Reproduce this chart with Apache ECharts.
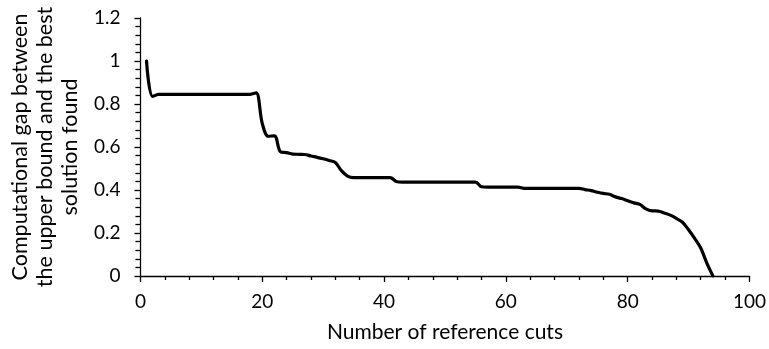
<!DOCTYPE html>
<html>
<head>
<meta charset="utf-8">
<script src="https://cdn.jsdelivr.net/npm/echarts@6/dist/echarts.min.js"></script>
<style>
  html, body { margin: 0; padding: 0; background: #fff; }
  #chart { width: 769px; height: 349px; }
</style>
</head>
<body>
<div id="chart"></div>
<script>
// Number of reference cuts added so far
const cuts = [1, 2, 3, 4, 8, 12, 16, 18, 19, 20, 21, 22, 23, 24, 25, 26, 27, 28, 29, 30,
  31, 32, 33, 34, 35, 38, 41, 42, 43, 48, 55, 56, 57, 62, 63, 68, 72, 73, 74, 75, 76, 77,
  78, 79, 80, 81, 82, 83, 84, 85, 86, 87, 88, 89, 90, 91, 92, 93, 94];
// Relative gap between the upper bound and the best solution found
const gap = [1.0, 0.835, 0.845, 0.845, 0.845, 0.845, 0.845, 0.845, 0.852, 0.71, 0.65, 0.652, 0.578, 0.574, 0.567, 0.566, 0.565, 0.558, 0.552, 0.545,
  0.537, 0.528, 0.49, 0.465, 0.458, 0.458, 0.458, 0.44, 0.437, 0.437, 0.437, 0.415, 0.413, 0.413, 0.408, 0.408, 0.408, 0.402, 0.397, 0.39, 0.384, 0.38,
  0.368, 0.36, 0.35, 0.34, 0.333, 0.312, 0.303, 0.302, 0.293, 0.283, 0.268, 0.25, 0.215, 0.175, 0.13, 0.06, 0.0];

const xTicks = { min: 0, max: 100, interval: 20 };
const yTicks = { min: 0, max: 1.2, interval: 0.2 };

const FONT = 'Lato';
const chart = echarts.init(document.getElementById('chart'), null, { renderer: 'canvas' });

chart.setOption({
  animation: false,
  backgroundColor: '#ffffff',
  grid: { left: 138, right: 16, top: 18, bottom: 73 },
  xAxis: {
    type: 'value',
    min: xTicks.min, max: xTicks.max, interval: xTicks.interval,
    name: 'Number of reference cuts',
    nameLocation: 'middle',
    nameGap: 46,
    nameTextStyle: { fontFamily: FONT, fontSize: 21, color: '#000' },
    axisLine: { show: true, onZero: false, lineStyle: { color: '#000', width: 1.3 } },
    axisTick: { show: true, inside: false, length: 6, lineStyle: { color: '#000', width: 1.3 } },
    minorTick: { show: true, splitNumber: 5, length: 4, lineStyle: { color: '#000', width: 1.3 } },
    axisLabel: { fontFamily: FONT, fontSize: 19, color: '#000', margin: 16 },
    splitLine: { show: false }
  },
  yAxis: {
    type: 'value',
    min: yTicks.min, max: yTicks.max, interval: yTicks.interval,
    name: 'Computational gap between\nthe upper bound and the best\nsolution found',
    nameLocation: 'middle',
    nameGap: 56,
    nameTextStyle: { fontFamily: FONT, fontSize: 21.5, color: '#000', lineHeight: 25, align: 'center' },
    axisLine: { show: true, lineStyle: { color: '#000', width: 1.3 } },
    axisTick: { show: true, inside: false, length: 6, lineStyle: { color: '#000', width: 1.3 } },
    minorTick: { show: true, splitNumber: 5, length: 5, lineStyle: { color: '#000', width: 1.3 } },
    axisLabel: { fontFamily: FONT, fontSize: 19, color: '#000', margin: 20,
      formatter: v => String(Math.round(v * 10) / 10) },
    splitLine: { show: false }
  },
  series: [{
    type: 'line',
    data: cuts.map((c, i) => [c, gap[i]]),
    smooth: 0.35,
    showSymbol: false,
    lineStyle: { color: '#000', width: 3.2, join: 'round', cap: 'round' }
  }]
});
</script>
</body>
</html>
